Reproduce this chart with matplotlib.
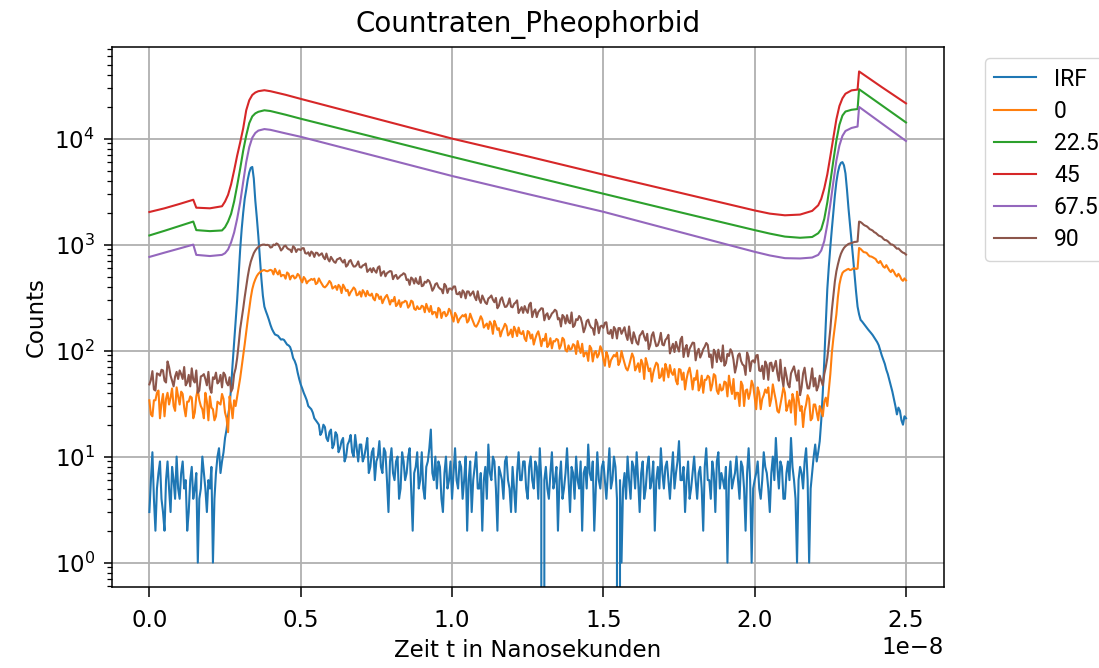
import numpy as np
import matplotlib.pyplot as plt

# time axis of the TCSPC histogram (channels), in units of 1e-8 s
t_channels = np.linspace(0, 2.5, 501)

# knot times for the three bright, smooth decays
t_knots = [0.00, 0.05, 0.10, 0.145, 0.155, 0.20, 0.24, 0.25, 0.26, 0.27,
           0.28, 0.29, 0.30, 0.31, 0.32, 0.33, 0.34, 0.35, 0.36, 0.38,
           0.40, 0.45, 0.50, 0.75, 1.00, 1.25, 1.50, 1.75, 2.00, 2.05,
           2.10, 2.15, 2.19, 2.21, 2.22, 2.23, 2.24, 2.25, 2.26, 2.27,
           2.28, 2.29, 2.30, 2.32, 2.34, 2.345, 2.42, 2.50]

counts_irf = [
    3, 6, 11, 4, 2, 5, 7, 9, 4, 3, 2, 6, 9, 5, 3, 8, 6, 4, 10, 5,
    4, 7, 9, 5, 6, 2, 3, 6, 8, 4, 5, 7, 1, 4, 5, 10, 7, 5, 3, 6,
    5, 8, 1, 4, 7, 10, 12, 7, 9, 11, 15, 18, 24, 30, 45, 75, 120, 190, 300, 520,
    900, 1400, 2000, 2700, 3300, 4100, 4800, 5300, 5400, 4200,
    2600, 1800, 1200, 760, 480, 330, 260, 235, 215, 195,
    175, 160, 150, 142, 140, 138, 132, 127, 128, 126, 120, 114, 112, 108, 98, 85, 80, 73, 62, 54,
    48, 44, 40, 37, 34, 30, 29, 28, 26, 23, 22, 21, 20, 16, 17, 20, 19, 15, 14, 17,
    18, 12, 13, 17, 16, 11, 12, 14, 15, 9, 10, 13, 14, 16, 11, 10, 16, 12, 9, 13,
    13, 9, 10, 12, 15, 7, 8, 11, 12, 6, 9, 10, 14, 8, 7, 12, 11, 6, 3, 9,
    12, 7, 6, 9, 10, 4, 5, 11, 9, 6, 7, 10, 12, 5, 2, 7, 8, 11, 5, 6,
    11, 5, 4, 8, 9, 12, 18, 7, 6, 10, 5, 9, 8, 4, 3, 7, 10, 5, 6, 9,
    4, 7, 12, 6, 5, 9, 8, 4, 6, 10, 2, 6, 9, 3, 6, 8, 11, 5, 5, 7,
    2, 6, 8, 4, 13, 7, 6, 10, 9, 5, 2, 8, 7, 6, 4, 9, 10, 6, 5, 3,
    8, 5, 3, 7, 11, 6, 6, 9, 9, 5, 4, 8, 10, 6, 5, 9, 8, 4, 12, 6,
    0, 6, 8, 5, 4, 7, 11, 5, 6, 8, 2, 6, 9, 4, 5, 7, 12, 6, 3, 8,
    7, 4, 10, 6, 5, 9, 2, 7, 8, 5, 13, 7, 6, 9, 2, 5, 11, 6, 5, 8,
    9, 6, 4, 7, 12, 5, 6, 10, 8, 4, 0, 6, 1, 5, 7, 4, 10, 6, 4, 9,
    8, 5, 11, 6, 3, 7, 9, 4, 5, 8, 10, 5, 6, 9, 2, 6, 8, 5, 12, 7,
    5, 8, 9, 6, 4, 7, 11, 5, 7, 9, 14, 6, 6, 8, 3, 6, 9, 4, 5, 7,
    10, 6, 4, 7, 8, 5, 2, 8, 12, 6, 6, 4, 9, 7, 3, 9, 11, 5, 7, 6,
    5, 8, 1, 6, 9, 5, 6, 7, 10, 6, 4, 9, 8, 5, 2, 7, 12, 6, 1, 5,
    6, 7, 9, 5, 4, 6, 11, 8, 7, 5, 3, 7, 10, 6, 15, 8, 5, 9, 8, 4,
    4, 7, 9, 6, 15, 8, 6, 4, 1, 6, 8, 7, 5, 9, 12, 6, 1, 5, 7, 10,
    13, 9, 11, 14, 22, 40, 80, 180, 380, 620, 950, 1400, 2000, 2900, 3900, 4800, 5500, 5900, 6000, 5600,
    4700, 3300, 2200, 1550, 1100, 760, 520, 360, 260, 220, 195, 188, 180, 172, 165, 158, 152, 146, 140, 133,
    126, 120, 112, 100, 90, 82, 75, 66, 60, 53, 47, 41, 35, 30, 25, 29, 27, 22, 20, 24,
    23,
]

counts_0 = [
    34, 25, 24, 34, 34, 40, 42, 23, 32, 39, 24, 35, 40, 31, 36, 44, 30, 27, 45, 37,
    31, 41, 39, 29, 24, 33, 33, 37, 36, 23, 26, 37, 43, 34, 30, 28, 23, 40, 33, 22,
    37, 29, 28, 22, 24, 33, 32, 31, 39, 35, 26, 23, 17, 37, 30, 23, 34, 30, 37, 45,
    55, 70, 90, 115, 150, 195, 250, 315, 380, 430, 470, 505, 530, 548, 560, 572, 575, 565, 560, 570,
    578, 569, 523, 591, 550, 523, 570, 502, 517, 515, 477, 546, 530, 469, 505, 510, 479, 491, 529, 511,
    470, 440, 495, 474, 431, 453, 461, 474, 465, 477, 424, 435, 480, 449, 425, 402, 395, 408, 427, 454,
    435, 385, 396, 407, 374, 417, 400, 349, 419, 394, 365, 374, 331, 356, 373, 394, 379, 332, 338, 361,
    323, 372, 353, 325, 366, 336, 330, 345, 310, 298, 343, 336, 307, 324, 280, 303, 322, 335, 306, 272,
    300, 291, 321, 263, 273, 299, 258, 285, 285, 295, 289, 254, 266, 296, 289, 248, 242, 262, 247, 248,
    265, 260, 230, 276, 250, 232, 264, 220, 231, 230, 205, 253, 244, 203, 228, 232, 211, 220, 248, 236,
    208, 188, 227, 213, 184, 199, 207, 216, 210, 220, 184, 192, 223, 203, 187, 172, 168, 178, 192, 211,
    197, 165, 173, 180, 160, 188, 178, 144, 191, 175, 157, 163, 136, 153, 164, 179, 170, 139, 144, 158,
    134, 168, 156, 137, 165, 146, 143, 153, 130, 123, 153, 149, 130, 142, 114, 129, 143, 152, 133, 110,
    129, 124, 144, 108, 114, 131, 105, 123, 122, 129, 126, 104, 112, 132, 127, 101, 98, 112, 102, 104,
    115, 112, 93, 123, 106, 95, 116, 88, 95, 96, 80, 111, 105, 79, 95, 99, 86, 92, 110, 102,
    83, 72, 97, 89, 70, 81, 86, 91, 88, 96, 73, 79, 99, 86, 76, 68, 65, 72, 82, 94,
    86, 65, 70, 76, 63, 82, 75, 54, 85, 75, 64, 68, 51, 62, 70, 77, 74, 55, 57, 68,
    52, 75, 67, 56, 73, 62, 59, 67, 52, 48, 67, 66, 53, 62, 43, 54, 63, 69, 57, 43,
    55, 53, 65, 42, 46, 58, 40, 53, 53, 58, 56, 42, 48, 60, 58, 42, 39, 48, 42, 43,
    51, 50, 37, 58, 46, 39, 54, 35, 40, 40, 30, 51, 47, 30, 42, 43, 35, 40, 52, 47,
    36, 28, 45, 40, 28, 35, 38, 43, 40, 45, 30, 35, 48, 40, 34, 27, 26, 31, 37, 45,
    40, 27, 30, 34, 26, 39, 34, 20, 41, 35, 27, 30, 19, 27, 31, 38, 35, 22, 23, 31,
    31, 26, 22, 30, 27, 24, 33, 36, 30, 42, 60, 95, 130, 170, 220, 320, 420, 490, 540, 560,
    570, 582, 590, 575, 580, 595, 600, 588, 595, 930, 910, 880, 850, 845, 835, 800, 775, 772, 760, 745,
    730, 690, 670, 700, 660, 620, 605, 640, 605, 570, 550, 580, 555, 520, 500, 530, 505, 470, 455, 480,
    460,
]

counts_90 = [
    48, 53, 64, 43, 42, 61, 60, 58, 66, 65, 52, 50, 79, 70, 58, 52, 46, 57, 63, 54,
    65, 60, 54, 70, 47, 50, 59, 46, 68, 53, 50, 65, 40, 42, 57, 58, 60, 54, 47, 63,
    44, 40, 56, 54, 62, 49, 51, 59, 45, 62, 59, 50, 47, 56, 41, 44, 60, 68, 85, 115,
    160, 200, 250, 320, 400, 500, 600, 690, 760, 830, 880, 920, 950, 975, 990, 1000, 1000, 990, 995, 985,
    938, 947, 1000, 988, 1026, 1006, 952, 880, 912, 966, 978, 929, 904, 896, 849, 966, 934, 852, 902, 904,
    887, 925, 925, 830, 822, 846, 783, 860, 835, 765, 839, 835, 786, 807, 828, 762, 728, 823, 732, 694,
    766, 728, 689, 673, 725, 735, 750, 706, 677, 719, 620, 641, 696, 715, 658, 621, 622, 645, 694, 615,
    607, 635, 644, 663, 553, 575, 596, 549, 601, 566, 543, 608, 624, 508, 545, 561, 502, 537, 550, 563,
    558, 472, 506, 518, 475, 490, 510, 519, 537, 524, 463, 470, 417, 489, 474, 429, 482, 437, 425, 498,
    405, 411, 447, 438, 465, 451, 415, 367, 388, 424, 433, 399, 384, 378, 347, 426, 406, 350, 384, 386,
    375, 402, 403, 343, 340, 357, 318, 370, 355, 311, 362, 361, 330, 346, 362, 320, 299, 363, 305, 282,
    331, 307, 284, 275, 310, 318, 331, 302, 286, 314, 251, 265, 303, 318, 282, 258, 260, 277, 311, 260,
    256, 276, 284, 298, 226, 242, 257, 227, 263, 241, 227, 271, 283, 207, 233, 245, 207, 231, 241, 251,
    249, 193, 217, 225, 198, 209, 224, 231, 243, 236, 197, 202, 169, 217, 208, 180, 216, 187, 181, 229,
    167, 173, 198, 194, 212, 204, 180, 149, 164, 190, 196, 175, 165, 162, 141, 196, 182, 146, 169, 172,
    164, 183, 185, 146, 144, 157, 131, 167, 158, 130, 163, 163, 144, 155, 166, 140, 126, 169, 131, 117,
    149, 134, 119, 114, 138, 144, 153, 135, 124, 144, 103, 113, 139, 149, 125, 110, 112, 124, 147, 114,
    112, 126, 131, 141, 94, 105, 116, 97, 121, 107, 98, 127, 135, 87, 104, 113, 88, 104, 111, 119,
    118, 81, 96, 104, 86, 93, 103, 109, 118, 113, 87, 92, 69, 102, 96, 78, 102, 84, 79, 112,
    72, 76, 93, 89, 103, 97, 82, 62, 72, 90, 94, 80, 74, 72, 59, 96, 87, 64, 79, 81,
    77, 90, 91, 65, 64, 72, 54, 79, 73, 53, 76, 77, 64, 71, 80, 61, 52, 82, 56, 46,
    69, 58, 48, 45, 61, 66, 71, 60, 52, 65, 38, 45, 61, 69, 53, 44, 44, 53, 68, 46,
    55, 42, 46, 58, 52, 47, 60, 70, 85, 115, 160, 240, 330, 450, 560, 650, 740, 820, 880, 930,
    965, 990, 1015, 1025, 1035, 1048, 1060, 1062, 1070, 1650, 1630, 1590, 1540, 1510, 1490, 1450, 1400, 1380, 1355, 1310,
    1290, 1250, 1215, 1200, 1180, 1135, 1105, 1100, 1075, 1040, 1005, 1000, 980, 945, 915, 920, 890, 860, 840, 830,
    805,
]

counts_45 = [2030, 2200, 2420, 2650, 2230, 2200, 2300, 2550, 2950, 3700,
             5000, 6900, 9200, 12500, 18500, 23000, 25800, 27200, 28000, 28600,
             28000, 25900, 23700, 15400, 10000, 6800, 4570, 3100, 2100, 1960,
             1890, 1920, 2080, 2350, 2700, 3400, 4600, 6800, 10200, 15200,
             20300, 24000, 26500, 28500, 29000, 43000, 30600, 21500]

counts_22_5 = [1220, 1350, 1500, 1650, 1370, 1340, 1360, 1460, 1650, 1950,
               2550, 3600, 5200, 7700, 10700, 14000, 16200, 17300, 17900, 18500,
               18200, 16800, 15400, 10200, 6740, 4500, 3020, 2030, 1370, 1270,
               1190, 1160, 1180, 1280, 1400, 1750, 2500, 3900, 6200, 9600,
               13500, 16500, 18000, 18700, 19000, 29200, 20600, 14200]

counts_67_5 = [765, 840, 920, 1000, 800, 780, 800, 830, 900, 1050,
               1300, 1750, 2500, 3900, 6000, 8300, 10200, 11300, 11900, 12300,
               12100, 11200, 10400, 6800, 4440, 3000, 2040, 1320, 855, 790,
               745, 740, 755, 800, 880, 1080, 1550, 2400, 3900, 6200,
               8600, 10600, 11800, 12600, 13000, 19900, 13900, 9500]

plt.rcParams["font.size"] = 16.5
plt.rcParams["axes.titlesize"] = 20
plt.rcParams["axes.labelpad"] = 5
plt.rcParams["xtick.major.size"] = 7
plt.rcParams["ytick.major.size"] = 6
plt.rcParams["ytick.minor.size"] = 3.5
plt.rcParams["xtick.major.pad"] = 8.5
plt.rcParams["ytick.major.pad"] = 6
plt.rcParams["xtick.major.width"] = 1.1
plt.rcParams["ytick.major.width"] = 1.1
plt.rcParams["ytick.minor.width"] = 0.9

t = t_channels * 1e-8
tk = np.array(t_knots) * 1e-8

fig = plt.figure(figsize=(10.99, 6.68), dpi=100)
ax = fig.add_axes([0.1015, 0.121, 0.7573, 0.8088])

lw = 1.5
ax.plot(t, counts_irf, lw=lw, label="IRF")
ax.plot(t, counts_0, lw=lw, label="0")
ax.plot(tk, counts_22_5, lw=lw, label="22.5")
ax.plot(tk, counts_45, lw=lw, label="45")
ax.plot(tk, counts_67_5, lw=lw, label="67.5")
ax.plot(t, counts_90, lw=lw, label="90")

ax.set_yscale("log")
ax.grid(True, color="#b0b0b0", linewidth=1.3)
for side in ax.spines.values():
    side.set_linewidth(1.1)

ax.set_title("Countraten_Pheophorbid", pad=11)
ax.set_xlabel("Zeit t in Nanosekunden")
ax.set_ylabel("Counts")
ax.legend(bbox_to_anchor=(1.036, 1), loc="upper left",
          prop={"family": ["Roboto", "DejaVu Sans"], "size": 16.5},
          handlelength=1.8, labelspacing=0.4)

fig.savefig("out.png", dpi=100)
